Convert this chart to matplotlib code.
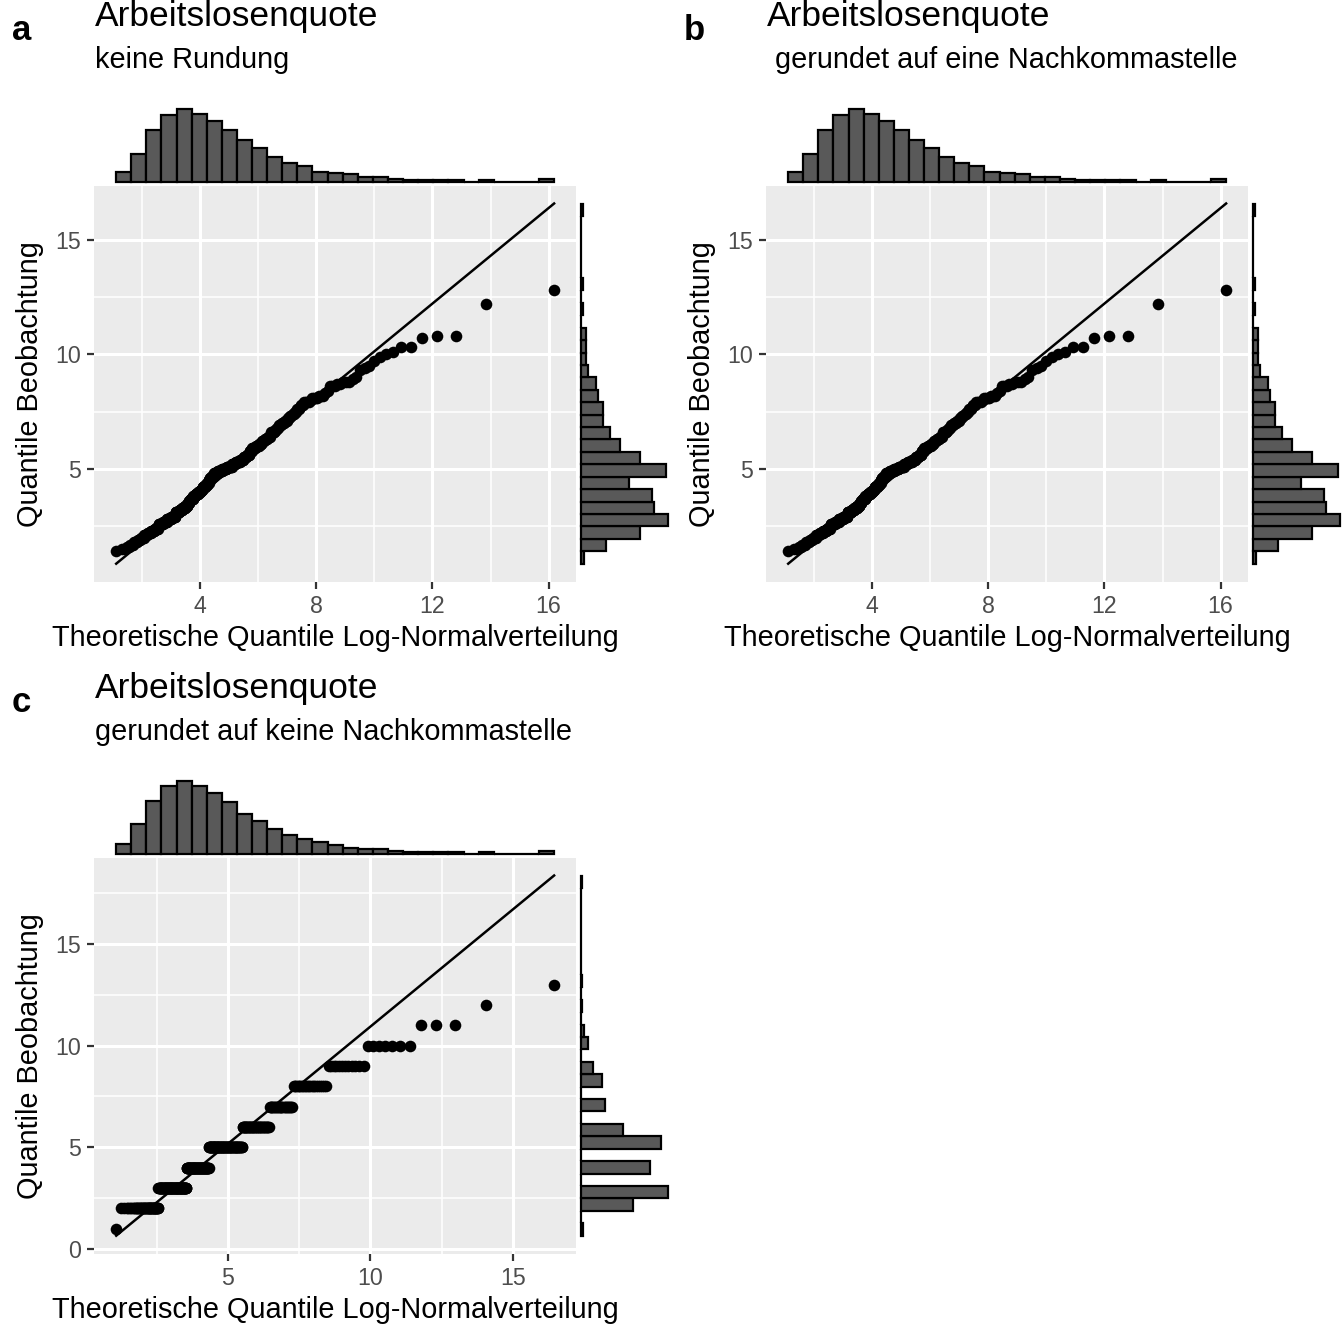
# QQ-Plots Arbeitslosenquote gegen Log-Normalverteilung, mit Randhistogrammen
from statistics import NormalDist

import matplotlib
matplotlib.use("Agg")
import matplotlib.pyplot as plt
import numpy as np

# Beobachtete Arbeitslosenquoten (eine Nachkommastelle) und ihre Haeufigkeit, n = 400
OBS_VALUES = [1.4, 1.5, 1.6, 1.7, 1.8, 1.9, 2.0, 2.1, 2.2, 2.3, 2.4, 2.5,
              2.6, 2.7, 2.8, 2.9, 3.0, 3.1, 3.2, 3.3, 3.4, 3.5, 3.6,
              3.7, 3.8, 3.9, 4.0, 4.1, 4.2, 4.3, 4.4, 4.5, 4.6, 4.7,
              4.8, 4.9, 5.0, 5.1, 5.2, 5.3, 5.4, 5.5, 5.6, 5.8,
              5.9, 6.0, 6.1, 6.2, 6.3, 6.4, 6.6, 6.7, 6.8,
              6.9, 7.0, 7.1, 7.2, 7.3, 7.4, 7.5, 7.6, 7.7, 7.8, 7.9,
              8.0, 8.1, 8.2, 8.3, 8.4, 8.6, 8.7, 8.8, 8.9, 9.0,
              9.3, 9.4, 9.5, 9.7, 9.9, 10.0, 10.1, 10.3, 10.7, 10.8, 12.2, 12.8]
OBS_COUNTS = [1, 2, 2, 3, 4, 4, 5, 6, 7, 8, 9, 2,
              11, 11, 13, 12, 2, 12, 9, 9, 8, 5, 5,
              8, 8, 8, 7, 6, 8, 6, 5, 3, 6, 6,
              10, 11, 11, 12, 8, 9, 7, 6, 5, 4,
              6, 5, 4, 4, 4, 4, 5, 2, 2,
              3, 3, 3, 2, 2, 2, 2, 2, 1, 2, 4,
              1, 4, 3, 1, 1, 3, 2, 3, 1, 1,
              1, 1, 1, 1, 1, 1, 1, 2, 1, 2, 1, 1]

TITLE = "Arbeitslosenquote"
SUBTITLES = ["keine Rundung", " gerundet auf eine Nachkommastelle",
             "gerundet auf keine Nachkommastelle"]
TAGS = ["a", "b", "c"]
X_LABEL = "Theoretische Quantile Log-Normalverteilung"
Y_LABEL = "Quantile Beobachtung"

XTICKS_AB = [4, 8, 12, 16]
YTICKS_AB = [5, 10, 15]
XTICKS_C = [5, 10, 15]
YTICKS_C = [0, 5, 10, 15]

SIZE = 1344
ND = NormalDist()


def qq_data(v):
    # stat_qq / stat_qq_line mit an die Daten angepasster Log-Normalverteilung
    v = np.sort(v)
    n = len(v)
    lv = np.log(v)
    mu, sd = lv.mean(), lv.std()
    pp = (np.arange(1, n + 1) - 0.5) / n
    x = np.exp(mu + sd * np.array([ND.inv_cdf(q) for q in pp]))
    y25, y75 = np.quantile(v, [0.25, 0.75])
    x25, x75 = np.exp(mu + sd * np.array([ND.inv_cdf(0.25), ND.inv_cdf(0.75)]))
    slope = (y75 - y25) / (x75 - x25)
    lx = np.array([x[0], x[-1]])
    ly = y25 + slope * (lx - x25)
    return x, v, lx, ly


def rect(l, t, r, b):
    return [l / SIZE, 1 - b / SIZE, (r - l) / SIZE, (b - t) / SIZE]


def expand(a, b):
    d = (b - a) * 0.05
    return a - d, b + d


def minor_between(ticks):
    step = ticks[1] - ticks[0]
    return [t - step / 2 for t in ticks] + [ticks[-1] + step / 2]


def draw_panel(fig, v, ox, oy, tag, subtitle, xticks, yticks):
    x, y, lx, ly = qq_data(v)

    ax = fig.add_axes(rect(94.3 + ox, 185.5 + oy, 576 + ox, 581.7 + oy))
    ax.set_facecolor('#EBEBEB')
    for sp in ax.spines.values():
        sp.set_visible(False)
    ax.scatter(x, y, s=70, color='black', linewidths=0, zorder=3)
    ax.plot(lx, ly, color='black', lw=1.8, zorder=4)

    allx = np.concatenate([x, lx])
    ally = np.concatenate([y, ly])
    xl = expand(allx.min(), allx.max())
    yl = expand(ally.min(), ally.max())
    ax.set_xticks(xticks)
    ax.set_yticks(yticks)
    ax.set_xticks(minor_between(xticks), minor=True)
    ax.set_yticks(minor_between(yticks), minor=True)
    ax.set_xlim(*xl)
    ax.set_ylim(*yl)
    ax.grid(which='major', color='white', lw=2.2)
    ax.grid(which='minor', color='white', lw=1.1)
    ax.set_axisbelow(True)
    ax.tick_params(which='major', length=5.2, width=1.6, color='#333333', labelsize=16.7,
                   labelcolor='#4D4D4D', pad=4.2)
    ax.tick_params(which='minor', length=0)

    # Randhistogramme (29 Klassen zwischen Minimum und Maximum)
    top = fig.add_axes(rect(94.3 + ox, 105.7 + oy, 576 + ox, 185.5 + oy))
    cx, _, _ = top.hist(allx, bins=np.linspace(allx.min(), allx.max(), 30),
                        color='#595959', edgecolor='black', lw=1.6)
    top.set_xlim(*xl)
    top.set_ylim(*expand(0, cx.max()))
    top.set_axis_off()

    right = fig.add_axes(rect(576.6 + ox, 185.5 + oy, 672 + ox, 581.7 + oy))
    cy, _, _ = right.hist(ally, bins=np.linspace(ally.min(), ally.max(), 30),
                          orientation='horizontal', color='#595959', edgecolor='black', lw=1.6)
    right.set_ylim(*yl)
    right.set_xlim(*expand(0, cy.max()))
    right.set_axis_off()

    def pos(px, py):
        return (px + ox) / SIZE, 1 - (py + oy) / SIZE

    fig.text(*pos(12, 40), tag, fontsize=25, fontweight='bold', va='baseline', ha='left')
    fig.text(*pos(95, 26), TITLE, fontsize=25.5, va='baseline', ha='left')
    fig.text(*pos(95, 68), subtitle, fontsize=20.8, va='baseline', ha='left')
    fig.text(*pos(335, 646), X_LABEL, fontsize=20.8, va='baseline', ha='center')
    fig.text(*pos(30, 383.6), Y_LABEL, fontsize=20.8, rotation=90, va='center', ha='center')


def main():
    plt.rcParams['font.family'] = ['Liberation Sans', 'DejaVu Sans']
    obs = np.repeat(OBS_VALUES, OBS_COUNTS)

    fig = plt.figure(figsize=(SIZE / 100, SIZE / 100), dpi=100)
    draw_panel(fig, obs, 0, 0, TAGS[0], SUBTITLES[0], XTICKS_AB, YTICKS_AB)
    draw_panel(fig, obs, 672, 0, TAGS[1], SUBTITLES[1], XTICKS_AB, YTICKS_AB)
    draw_panel(fig, np.round(obs), 0, 672, TAGS[2], SUBTITLES[2], XTICKS_C, YTICKS_C)
    fig.savefig('out.png', dpi=100)


if __name__ == '__main__':
    main()
